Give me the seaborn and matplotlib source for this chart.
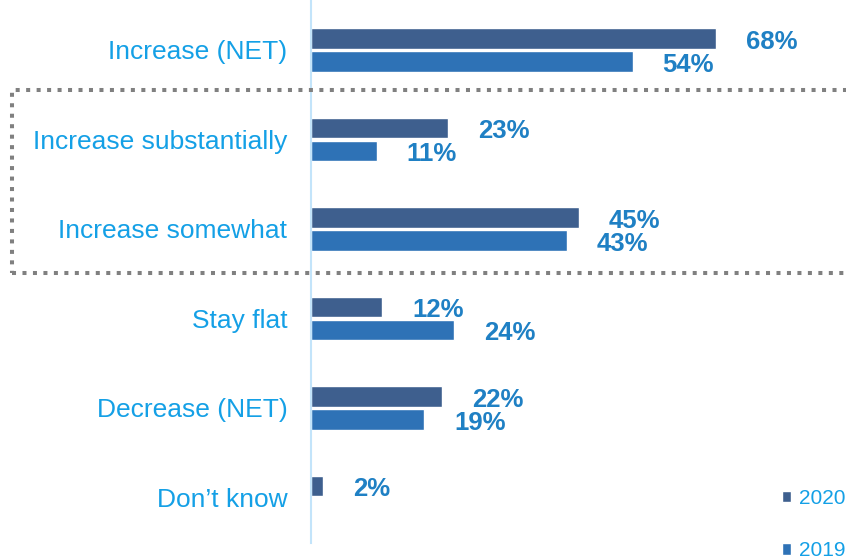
import numpy as np
import pandas as pd
import matplotlib
matplotlib.use("Agg")
import matplotlib.pyplot as plt
from matplotlib.patches import Rectangle
import seaborn as sns

# Survey answers and shares (%) per year
categories = ["Increase (NET)", "Increase substantially", "Increase somewhat",
              "Stay flat", "Decrease (NET)", "Don\u2019t know"]
share_2020 = [68, 23, 45, 12, 22, 2]
share_2019 = [54, 11, 43, 24, 19, np.nan]
years = ["2020", "2019"]

df = pd.DataFrame({
    "category": categories * 2,
    "share": share_2020 + share_2019,
    "year": [years[0]] * len(categories) + [years[1]] * len(categories),
})

palette = {"2020": "#3E5F8E", "2019": "#2E72B6"}
label_blue = "#14A0E6"
value_blue = "#1F80C4"
axis_blue = "#C3E4FA"

sns.set_theme(style="white")
plt.rcParams["font.family"] = ["Liberation Sans", "DejaVu Sans"]

W, H = 846, 559
fig = plt.figure(figsize=(W / 100, H / 100), dpi=100)
ax = fig.add_axes([311 / W, 0, (W - 311) / W, 1])

sns.barplot(data=df, x="share", y="category", hue="year", hue_order=years,
            order=categories, palette=palette, orient="h",
            width=0.514, gap=0.09, ax=ax, saturation=1)

# Scale: category rows every 89.5 px starting at 50 px from the top
row0, pitch = 50.0, 89.5
ax.set_ylim((H - row0) / pitch, -row0 / pitch)
ax.set_xlim(0, (W - 311) / 5.955)

for c in ax.containers:
    labels = ["" if np.isnan(b.get_width()) else f"{b.get_width():.0f}%" for b in c]
    anns = ax.bar_label(c, labels=labels, padding=21.5, fontsize=18.5,
                        fontweight="bold", color=value_blue)
    for a in anns:
        dx, dy = a.xyann
        a.xyann = (dx, dy - 2.2)

ax.set_xlabel("")
ax.set_ylabel("")
ax.set_xticks([])
ax.tick_params(axis="y", length=0, pad=17, labelsize=19, labelcolor=label_blue)

for s in ["top", "right", "bottom"]:
    ax.spines[s].set_visible(False)
ax.spines["left"].set_color(axis_blue)
ax.spines["left"].set_linewidth(1.5)
ax.spines["left"].set_bounds((543 - row0) / pitch, -row0 / pitch)

sns.move_legend(ax, "upper left", bbox_to_anchor=(782 / W, 1 - 489 / H),
                bbox_transform=fig.transFigure, frameon=False, title=None,
                fontsize=15, labelcolor=label_blue, handlelength=0.45,
                handleheight=0.45, handletextpad=0.35, labelspacing=1.6,
                borderpad=0, borderaxespad=0)

# Dotted frame around the two "Increase" detail rows
frame = Rectangle((12 / W, 1 - 273 / H), (W + 20 - 12) / W, (273 - 90) / H,
                  transform=fig.transFigure, fill=False, edgecolor="#808080",
                  linewidth=2.9, linestyle=(0, (1.0, 1.6)), clip_on=False)
fig.patches.append(frame)

fig.savefig("out.png", dpi=100)
